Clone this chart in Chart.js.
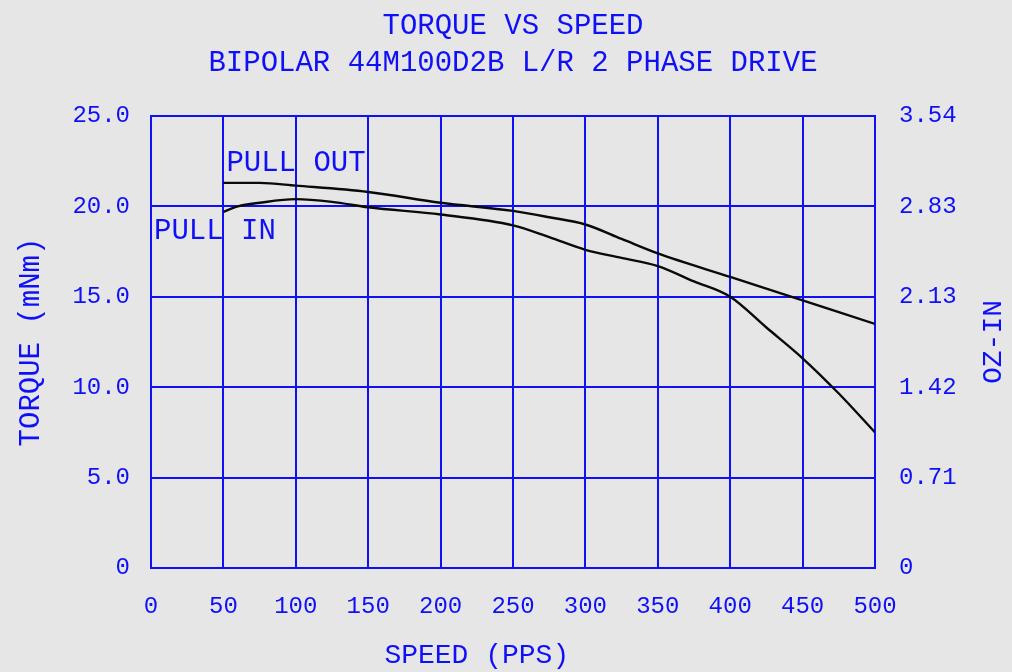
<!DOCTYPE html>
<html>
<head>
<meta charset="utf-8">
<script src="https://cdn.jsdelivr.net/npm/chart.js@4/dist/chart.umd.min.js"></script>
<style>
  html, body { margin: 0; padding: 0; background: #e6e6e6; }
  #wrap { width: 1012px; height: 672px; }
</style>
</head>
<body>
<div id="wrap"><canvas id="c" width="1012" height="672"></canvas></div>
<script>
// ---- Data ----
const speedOut  = [50, 75, 100, 150, 200, 250, 275, 300, 325, 350, 400, 450, 500];
const torqueOut = [21.3, 21.3, 21.15, 20.8, 20.2, 19.75, 19.4, 19.0, 18.2, 17.4, 16.1, 14.8, 13.5];
const speedIn   = [50, 60, 75, 100, 125, 150, 200, 250, 275, 300, 325, 350, 375, 400, 425, 450, 475, 500];
const torqueIn  = [19.7, 20.0, 20.2, 20.4, 20.25, 19.95, 19.55, 18.95, 18.3, 17.6, 17.15, 16.7, 15.85, 15.0, 13.3, 11.6, 9.65, 7.5];
const ozInLabels = ['0', '0.71', '1.42', '2.13', '2.83', '3.54'];
const titleLines = ['TORQUE VS SPEED', 'BIPOLAR 44M100D2B L/R 2 PHASE DRIVE'];
const xTitle = 'SPEED (PPS)';
const yTitle = 'TORQUE (mNm)';
const y2Title = 'OZ-IN';

const BLUE = '#1010f8';
const FONT = "'Liberation Mono', 'DejaVu Sans Mono', monospace";
Chart.defaults.color = BLUE;
Chart.defaults.font.family = FONT;

const toPts = (xs, ys) => xs.map((x, i) => ({ x: x, y: ys[i] }));

const textPlugin = {
  id: 'extraText',
  beforeDraw(chart) {
    const ctx = chart.ctx;
    ctx.save();
    ctx.fillStyle = '#e6e6e6';
    ctx.fillRect(0, 0, chart.width, chart.height);
    ctx.restore();
  },
  afterDraw(chart) {
    const { ctx, chartArea, scales } = chart;
    ctx.save();
    ctx.fillStyle = BLUE;
    ctx.font = '29px ' + FONT;
    ctx.textBaseline = 'middle';
    // curve labels
    ctx.textAlign = 'left';
    ctx.fillText('PULL OUT', scales.x.getPixelForValue(50) + 3, scales.y.getPixelForValue(22.4));
    ctx.fillText('PULL IN', scales.x.getPixelForValue(0) + 3, scales.y.getPixelForValue(18.6));
    // x axis title
    ctx.textAlign = 'center';
    ctx.font = '28px ' + FONT;
    ctx.fillText(xTitle, scales.x.getPixelForValue(225), chart.height - 16);
    // right axis title (reads bottom to top)
    const cy = (chartArea.top + chartArea.bottom) / 2;
    ctx.translate(chart.width - 18, cy);
    ctx.rotate(-Math.PI / 2);
    ctx.fillText(y2Title, 0, 0);
    ctx.restore();
  }
};

new Chart(document.getElementById('c'), {
  type: 'line',
  data: {
    datasets: [
      { label: 'PULL OUT', data: toPts(speedOut, torqueOut), borderColor: '#0a0a0a', borderWidth: 2.4,
        pointRadius: 0, cubicInterpolationMode: 'monotone', yAxisID: 'y' },
      { label: 'PULL IN', data: toPts(speedIn, torqueIn), borderColor: '#0a0a0a', borderWidth: 2.4,
        pointRadius: 0, cubicInterpolationMode: 'monotone', yAxisID: 'y' }
    ]
  },
  options: {
    responsive: false,
    animation: false,
    devicePixelRatio: 1,
    layout: { padding: 0 },
    plugins: {
      legend: { display: false },
      tooltip: { enabled: false },
      title: {
        display: true,
        text: titleLines,
        fullSize: false,
        color: BLUE,
        font: { family: FONT, size: 29, weight: 'normal', lineHeight: 37 / 29 },
        padding: { top: 8, bottom: 34 }
      }
    },
    scales: {
      x: {
        type: 'linear', min: 0, max: 500,
        afterFit(s) { s.height = 104; },
        ticks: { stepSize: 50, padding: 24, maxRotation: 0, color: BLUE,
                 font: { family: FONT, size: 24 } },
        grid: { color: BLUE, lineWidth: 2, drawTicks: false },
        border: { display: true, color: BLUE, width: 2 }
      },
      y: {
        type: 'linear', position: 'left', min: 0, max: 25,
        afterFit(s) { s.width = 151; },
        ticks: { stepSize: 5, padding: 21, color: BLUE, font: { family: FONT, size: 24 },
                 callback: (v) => v === 0 ? '0' : v.toFixed(1) },
        grid: { color: BLUE, lineWidth: 2, drawTicks: false },
        border: { display: true, color: BLUE, width: 2 },
        title: { display: true, text: yTitle, color: BLUE,
                 font: { family: FONT, size: 29, lineHeight: 1 }, padding: { top: 17, bottom: 0 } }
      },
      y2: {
        type: 'linear', position: 'right', min: 0, max: 25,
        afterFit(s) { s.width = 137; },
        ticks: { stepSize: 5, padding: 24, color: BLUE, font: { family: FONT, size: 24 },
                 callback: (v, i) => ozInLabels[i] },
        grid: { display: false, drawTicks: false },
        border: { display: true, color: BLUE, width: 2 }
      }
    }
  },
  plugins: [textPlugin]
});
</script>
</body>
</html>
